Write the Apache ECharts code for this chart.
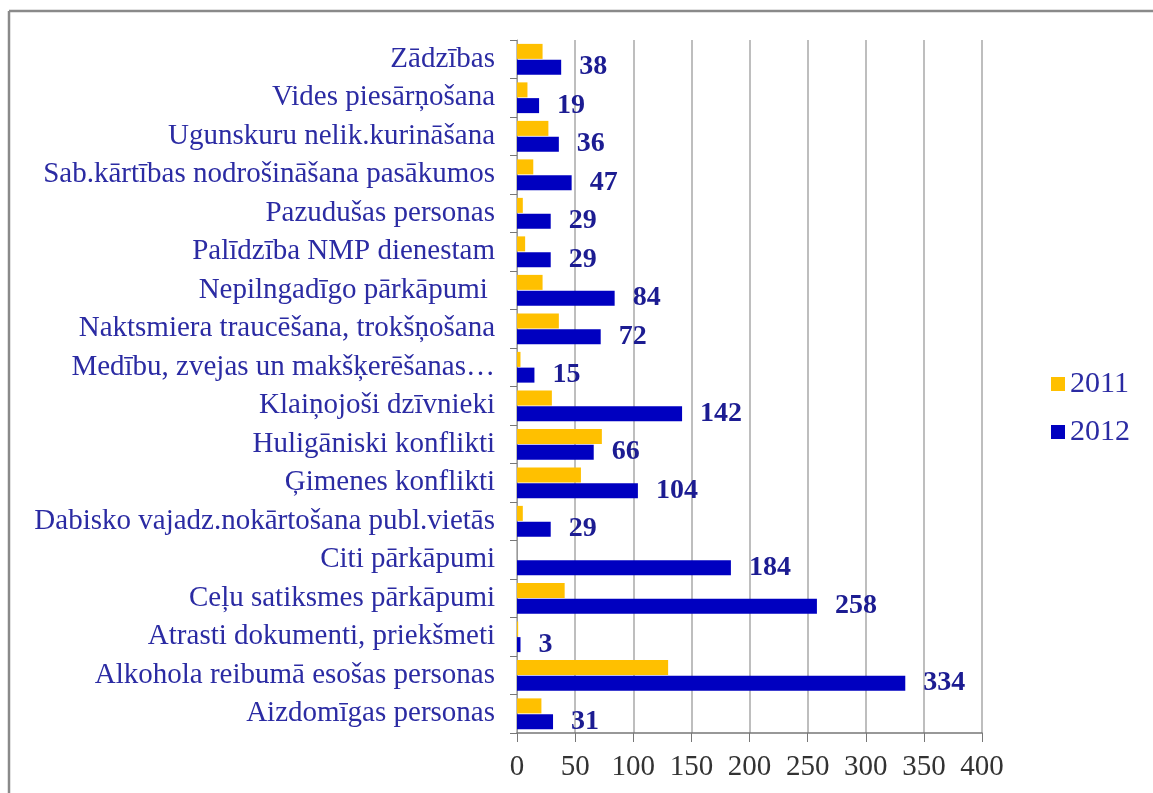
<!DOCTYPE html>
<html lang="lv">

<head>
    <meta charset="UTF-8">
    <title>Pārkāpumi 2011 / 2012</title>
    <script type="text/javascript" src="https://cdn.jsdelivr.net/npm/echarts@6/dist/echarts.min.js"></script>
    <style>
        html, body {
            margin: 0;
            padding: 0;
            background: #ffffff;
        }
        #chart {
            width: 1153px;
            height: 793px;
        }
    </style>
</head>

<body>
    <div id="chart"></div>
</body>
<script>
    // kategorijas no apakšas uz augšu
    var categories = [
        'Aizdomīgas personas',
        'Alkohola reibumā esošas personas',
        'Atrasti dokumenti, priekšmeti',
        'Ceļu satiksmes pārkāpumi',
        'Citi pārkāpumi',
        'Dabisko vajadz.nokārtošana publ.vietās',
        'Ģimenes konflikti',
        'Huligāniski konflikti',
        'Klaiņojoši dzīvnieki',
        'Medību, zvejas un makšķerēšanas…',
        'Naktsmiera traucēšana, trokšņošana',
        'Nepilngadīgo pārkāpumi ',
        'Palīdzība NMP dienestam',
        'Pazudušas personas',
        'Sab.kārtības nodrošināšana pasākumos',
        'Ugunskuru nelik.kurināšana',
        'Vides piesārņošana',
        'Zādzības'
    ];
    var values2011 = [21, 130, 1, 41, 0, 5, 55, 73, 30, 3, 36, 22, 7, 5, 14, 27, 9, 22];
    var values2012 = [31, 334, 3, 258, 184, 29, 104, 66, 142, 15, 72, 84, 29, 29, 47, 36, 19, 38];
    var seriesNames = ['2011', '2012'];

    var serif = '"Liberation Serif", "DejaVu Serif", serif';
    var myChart = echarts.init(document.getElementById('chart'));

    var option = {
        backgroundColor: '#ffffff',
        animation: false,
        grid: {
            left: 517,
            top: 40,
            width: 465,
            height: 693
        },
        legend: {
            orient: 'vertical',
            left: 1046,
            top: 364,
            itemWidth: 14,
            itemHeight: 14,
            itemGap: 18,
            icon: 'rect',
            data: seriesNames,
            textStyle: {
                fontFamily: serif,
                fontSize: 30,
                color: '#2b2ba3'
            }
        },
        xAxis: {
            type: 'value',
            min: 0,
            max: 400,
            interval: 50,
            axisLine: { show: true, lineStyle: { color: '#777777', width: 1.5 } },
            axisTick: { show: true, length: 9, lineStyle: { color: '#777777' } },
            splitLine: { show: true, lineStyle: { color: '#a8a8a8', width: 1.5 } },
            axisLabel: {
                fontFamily: serif,
                fontSize: 29,
                color: '#333333',
                margin: 20
            }
        },
        yAxis: {
            type: 'category',
            data: categories,
            axisLine: { show: true, lineStyle: { color: '#999999' } },
            axisTick: { show: true, length: 7, lineStyle: { color: '#777777' } },
            axisLabel: {
                fontFamily: serif,
                fontSize: 29,
                color: '#2b2ba3',
                margin: 22
            }
        },
        graphic: [
            // rāmis: augšējā un kreisā mala
            { type: 'line', shape: { x1: 9, y1: 11, x2: 1153, y2: 11 }, style: { stroke: '#8a8a8a', lineWidth: 2.5 } },
            { type: 'line', shape: { x1: 9, y1: 11, x2: 9, y2: 793 }, style: { stroke: '#8a8a8a', lineWidth: 2.5 } }
        ],
        series: [{
            name: seriesNames[0],
            type: 'bar',
            data: values2011,
            barWidth: 15,
            barGap: '5%',
            itemStyle: { color: '#ffc000' }
        }, {
            name: seriesNames[1],
            type: 'bar',
            data: values2012,
            barWidth: 15,
            barGap: '5%',
            itemStyle: { color: '#0000c0' },
            label: {
                show: true,
                position: 'right',
                distance: 18,
                fontFamily: serif,
                fontWeight: 'bold',
                fontSize: 28,
                color: '#1c1c92'
            }
        }]
    };
    myChart.setOption(option, true);
</script>

</html>
